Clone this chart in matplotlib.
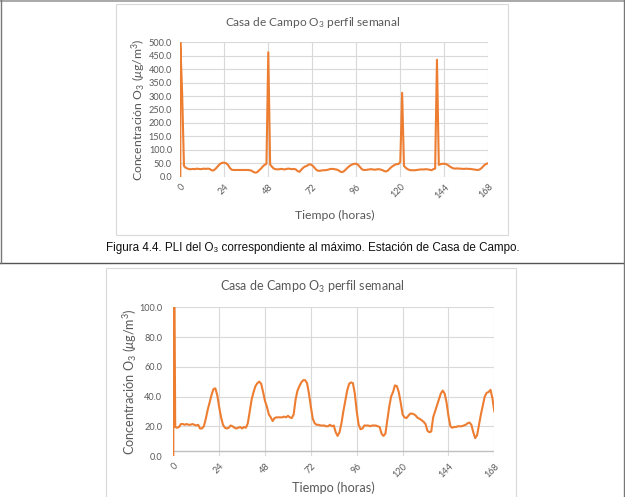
import matplotlib
matplotlib.use("Agg")
import matplotlib.pyplot as plt
from matplotlib.patches import Rectangle
from matplotlib.lines import Line2D

plt.rcParams["font.family"] = ["Lato", "DejaVu Sans"]
plt.rcParams["mathtext.fontset"] = "custom"
plt.rcParams["mathtext.rm"] = "Lato"
plt.rcParams["mathtext.it"] = "Lato:italic"

# --- data (hourly weekly profile, hour 0 appears twice: start of the series) ---
hours = [0] + list(range(0, 169))

o3_max = [
    0, 500, 310, 40, 33, 30, 28, 28, 29, 28, 30, 29, 28, 29, 30, 29, 30, 29, 24, 23,
    28, 35, 43, 49, 52, 52, 50, 44, 33, 26, 25, 25, 25, 25, 25, 25, 25, 25, 25, 24, 22,
    17, 15, 17, 24, 30, 38, 44, 48, 463, 45, 37, 30, 28, 27, 28, 29, 28, 27, 29, 30,
    29, 28, 29, 27, 21, 18, 26, 33, 38, 40, 45, 46, 42, 35, 27, 22, 22, 23, 24, 24,
    25, 27, 29, 29, 28, 27, 25, 20, 17, 19, 25, 32, 38, 43, 46, 48, 48, 44, 36, 28,
    25, 25, 26, 27, 28, 27, 26, 27, 28, 27, 25, 22, 19, 22, 28, 35, 40, 44, 47, 47,
    55, 312, 40, 33, 28, 25, 24, 24, 24, 25, 26, 27, 27, 27, 28, 27, 26, 24, 28, 30,
    435, 44, 47, 48, 48, 47, 43, 38, 34, 31, 30, 31, 30, 30, 29, 29, 30, 29, 29, 28,
    27, 26, 25, 26, 30, 37, 44, 48, 50,
]

o3_mean = [
    0, 250, 19.5, 19, 19.5, 21.5, 21.5, 21, 21.5, 21, 21, 21.5, 21, 20.5, 21, 18.5,
    18.5, 20, 25, 31, 36, 41, 45, 45.5, 41, 33, 26, 21, 19, 18.5, 19, 20.5, 20, 19,
    18.5, 19, 19.5, 18.5, 19.5, 19, 22, 30, 38, 43, 47, 49, 50, 48.5, 43, 37, 33, 28,
    26, 23.5, 25.5, 26, 26, 26, 26, 26.5, 26, 27, 26, 25.5, 28, 38, 44, 47, 49.5, 51,
    51, 49, 42, 33, 25, 22, 21, 21, 20.5, 20.5, 20.5, 20, 20, 21, 20, 20.5, 16, 13.5,
    16, 22, 30, 37, 44, 48.5, 49.5, 49, 42, 30, 21, 18, 18.5, 20.5, 20.5, 20.5, 20,
    20.5, 20.5, 20.5, 20, 19.5, 15, 13.5, 15, 24, 33, 40, 43, 47.5, 47, 43, 36, 28,
    26, 25.5, 27, 28.5, 28.5, 28, 27, 25.5, 25, 24, 23, 21.5, 17, 16, 16.5, 26, 30,
    34, 38, 42, 44, 42, 36, 27, 20, 19, 19.5, 19.5, 20, 20, 20, 20.5, 21, 22, 22.5,
    21, 16, 12, 14, 21, 28, 34, 40, 42.5, 43, 44.5, 39, 30,
]

xticks = list(range(0, 169, 24))
yticks_max = [0, 50, 100, 150, 200, 250, 300, 350, 400, 450, 500]
yticks_mean = [0, 20, 40, 60, 80, 100]

title = "Casa de Campo O$_3$ perfil semanal"
ylabel = "Concentración O$_3$ ($\\mu$g/m$^3$)"
xlabel = "Tiempo (horas)"
caption = "Figura 4.4. PLI del O₃ correspondiente al máximo. Estación de Casa de Campo."

W, H = 625, 497
ORANGE = "#ED7D31"
TXT = "#595959"
GRID = "#d9d9d9"


def fx(px):
    return px / W


def fy(py):
    return 1 - py / H


fig = plt.figure(figsize=(6.25, 4.97), dpi=100)

# document table rules
fig.add_artist(Line2D([0, 1], [fy(0.5), fy(0.5)], color="#9a9a9a", lw=1.2))
fig.add_artist(Line2D([0, 1], [fy(262.5), fy(262.5)], color="#555555", lw=1.0))
fig.add_artist(Line2D([fx(0.5), fx(0.5)], [fy(0), fy(262.5)], color="#777777", lw=1.0))
fig.add_artist(Line2D([fx(623.5), fx(623.5)], [0, 1], color="#777777", lw=1.0))

# chart frames
fig.add_artist(Rectangle((fx(116), fy(235)), fx(392), 231 / H, fill=False,
                         ec=GRID, lw=0.8))
fig.add_artist(Rectangle((fx(106), fy(510)), fx(410), 242 / H, fill=False,
                         ec=GRID, lw=0.8))

fig.text(0.5, fy(247.5), caption, ha="center", va="center", fontsize=8.4,
         family=["Liberation Sans", "DejaVu Sans"], color="#111111")


def draw(ax, values, yticks, ylim, ypad, xlab_y, ylab_x, label_size):
    ax.plot(hours, values, color=ORANGE, lw=1.5, solid_joinstyle="round", zorder=3)
    ax.set_xlim(0, 168)
    ax.set_ylim(*ylim)
    ax.set_xticks(xticks)
    ax.set_yticks(yticks)
    ax.set_yticklabels([f"{v:.1f}" for v in yticks])
    ax.set_xticklabels([str(v) for v in xticks], rotation=45, ha="right",
                       rotation_mode="anchor")
    ax.grid(True, color=GRID, lw=0.8, zorder=0)
    for s in ax.spines.values():
        s.set_visible(False)
    ax.tick_params(length=0, labelsize=6.6, labelcolor=TXT)
    ax.tick_params(axis="y", pad=ypad)
    ax.tick_params(axis="x", pad=4)
    ax.set_xlabel(xlabel, fontsize=label_size, color=TXT, va="center")
    ax.set_ylabel(ylabel, fontsize=label_size, color=TXT, va="center")
    ax.xaxis.set_label_coords(0.5, xlab_y)
    ax.yaxis.set_label_coords(ylab_x, 0.5)


ax1 = fig.add_axes([fx(180.3), fy(176.7), 308 / W, 134.4 / H])
draw(ax1, o3_max, yticks_max, (0, 500), 6, (176.7 - 215) / 134.4,
     (139 - 180.3) / 308, 8.8)
fig.text(fx(312.5), fy(22), title, ha="center", va="center", fontsize=8.6, color=TXT)

ax2 = fig.add_axes([fx(173.3), fy(456), 321 / W, 148.7 / H])
draw(ax2, o3_mean, yticks_mean, (0, 100), 8, (456 - 487.5) / 148.7,
     (130 - 173.3) / 321, 9.1)
ax2.axhline(3.6, color="#bfbfbf", lw=1.0, zorder=2)
fig.text(fx(312), fy(287), title, ha="center", va="center", fontsize=9.0, color=TXT)

fig.savefig("out.png", dpi=100)
